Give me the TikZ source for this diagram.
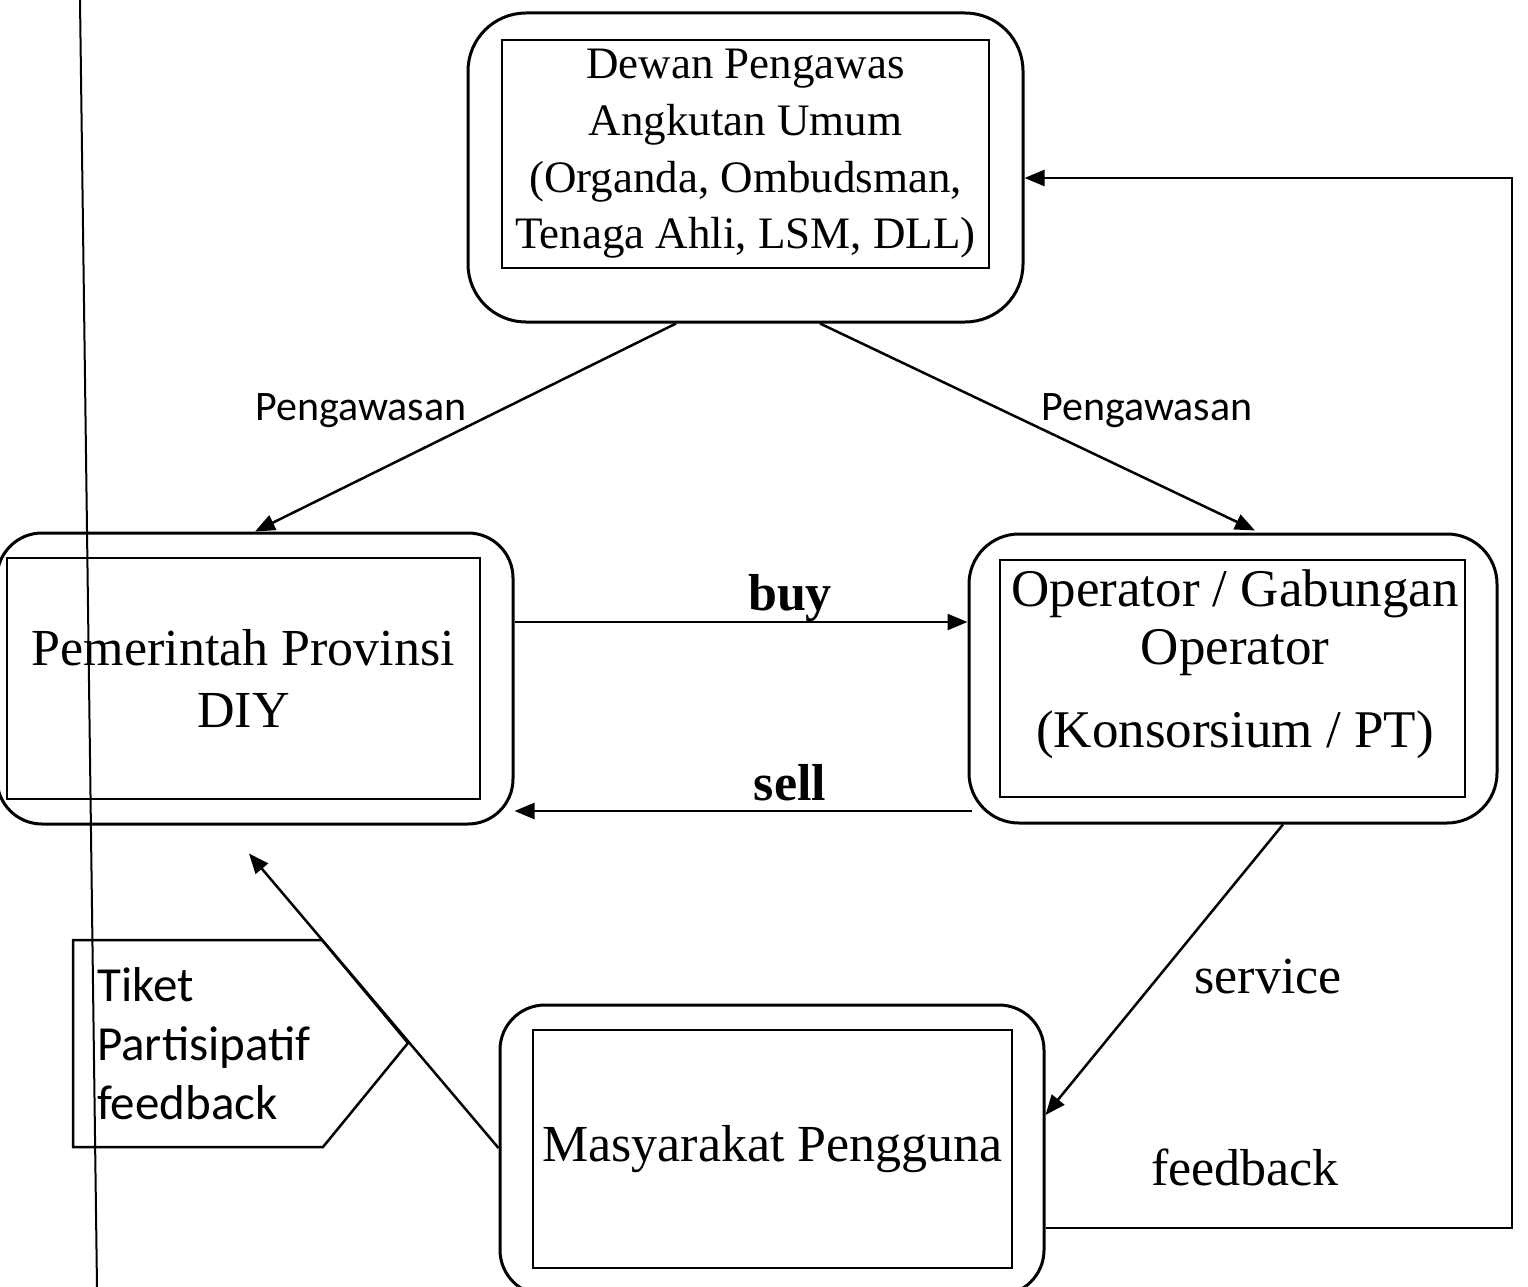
\documentclass[tikz,border=0pt]{standalone}
\usepackage{fontspec}
\setmainfont{Liberation Serif}
\newfontfamily\calfont{Carlito}
\usetikzlibrary{arrows.meta,calc}
\begin{document}
\begin{tikzpicture}[x=1pt,y=-1pt,
  outerbox/.style={draw, line width=3pt, rounded corners=#1, inner sep=0pt},
  innerbox/.style={draw, line width=2pt, inner sep=0pt},
  arr/.style={line width=2.5pt, -{Triangle[length=20pt,width=16pt]}},
  conn/.style={line width=2.5pt},
  sanslab/.style={font=\calfont\fontsize{42}{50}\selectfont, inner sep=0pt},
  seriflab/.style={font=\fontsize{52}{62}\selectfont, inner sep=0pt}]
\useasboundingbox (0,0) rectangle (1528,1287);
\clip (0,0) rectangle (1528,1287);

% vertical rule on the left
\coordinate (vtop) at (80,0);
\coordinate (vbot) at (97,1287);
\draw[line width=2pt] (vtop) -- (vbot);

% boxes
\node[outerbox=58pt, minimum width=555pt, minimum height=309pt] (dewanO) at (745.5,167.5) {};
\node[innerbox, minimum width=487pt, minimum height=228pt, align=center,
      font=\fontsize{45}{56.7}\selectfont] (dewan) at (745.5,154)
  {Dewan Pengawas\\Angkutan Umum\\(Organda, Ombudsman,\\Tenaga Ahli, LSM, DLL)};

\node[outerbox=45pt, minimum width=516pt, minimum height=291pt] (pemO) at (255,678.5) {};
\node[innerbox, minimum width=473pt, minimum height=241pt, align=center,
      font=\fontsize{52}{62}\selectfont] (pem) at (243.5,678.5)
  {Pemerintah Provinsi\\DIY};

\node[outerbox=50pt, minimum width=528pt, minimum height=289pt] (opO) at (1233,678.5) {};
\node[innerbox, minimum width=465pt, minimum height=237pt] (op) at (1232.5,678.5) {};
\node[align=center, inner sep=0pt, font=\fontsize{53}{58}\selectfont] (optxt) at (1235,664)
  {Operator / Gabungan\\Operator\\[25pt](Konsorsium / PT)};

\node[outerbox=45pt, minimum width=544pt, minimum height=290pt] (masO) at (772,1150) {};
\node[innerbox, minimum width=479pt, minimum height=238pt,
      font=\fontsize{52}{62}\selectfont] (mas) at (772.5,1149) {Masyarakat Pengguna};

% callout
\coordinate (c1) at (73,940);
\coordinate (c2) at (322,940);
\coordinate (c3) at (408,1043);
\coordinate (c4) at (323,1147);
\coordinate (c5) at (73,1147);
\draw[line width=2.5pt, line join=miter] (c1) -- (c2) -- (c3) -- (c4) -- (c5) -- cycle;
\node[font=\calfont\fontsize{49}{59}\selectfont, align=left, anchor=north west, inner sep=0pt]
  (tiket) at (97,967) {Tiket\\Partisipatif\\feedback};

% connectors
\draw[arr] ($(dewanO.south)+(-69.5,0)$) -- (pemO.north);
\draw[arr] ($(dewanO.south)+(74.5,0)$) -- ($(opO.north)+(22,-2)$);

\coordinate (buyS) at ($(pemO.east)+(0,-56.5)$);
\draw[arr] (buyS) -- (buyS -| opO.west);
\coordinate (sellS) at ($(opO.west)+(4,132.5)$);
\draw[arr] (sellS) -- (sellS -| pemO.east);

\draw[arr] ($(opO.south)+(50,0)$) -- ($(masO.east)+(0,-35)$);

\coordinate (tikEnd) at ($(pemO.south)+(-6,28)$);
\draw[arr] ($(masO.west)+(0,-2)$) -- (tikEnd);

\coordinate (fbA) at ($(masO.east)+(0,78)$);
\coordinate (fbB) at (1512,1228);
\coordinate (fbC) at (1512,178);
\draw[arr] (fbA) -- (fbB) -- (fbC) -- ($(dewanO.east)+(0,10.5)$);

% labels
\node[sanslab, anchor=base] (pgL) at (361,420) {Pengawasan};
\node[sanslab, anchor=base] (pgR) at (1147,420) {Pengawasan};
\node[seriflab, anchor=base, font=\bfseries\fontsize{52}{62}\selectfont] (buy) at (790,610) {buy};
\node[seriflab, anchor=base, font=\bfseries\fontsize{52}{62}\selectfont] (sell) at (790,800) {sell};
\node[seriflab, anchor=base] (service) at (1268,993) {service};
\node[seriflab, anchor=base] (feedback) at (1245,1185) {feedback};
\end{tikzpicture}
\end{document}
